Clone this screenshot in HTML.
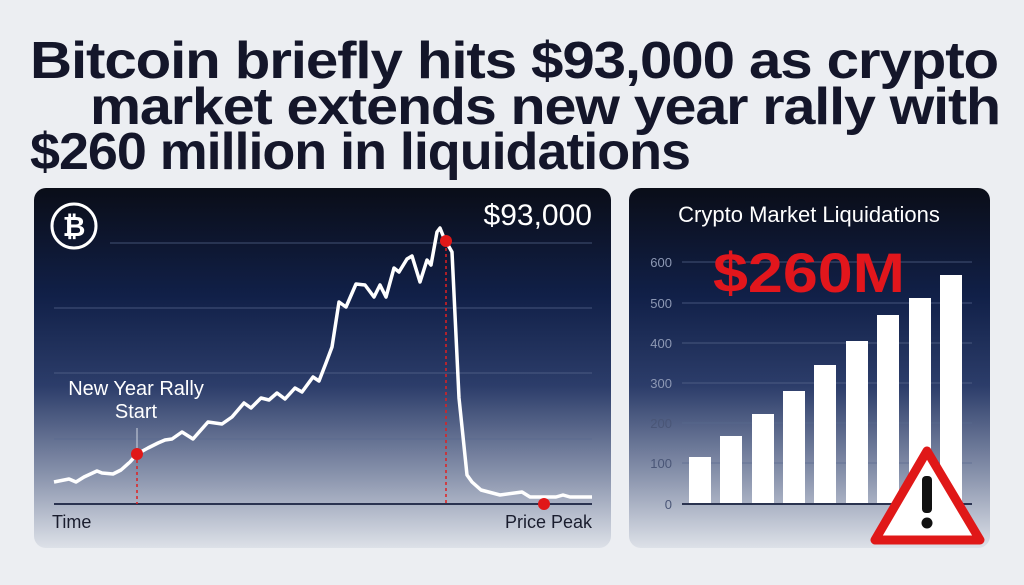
<!DOCTYPE html>
<html><head><style>
html,body{margin:0;padding:0;background:#eceef2;}
svg{display:block;font-family:"Liberation Sans",sans-serif;}
</style></head><body>
<svg width="1024" height="585" viewBox="0 0 1024 585" xmlns="http://www.w3.org/2000/svg">
<defs>
<linearGradient id="bg" x1="0" y1="0" x2="0" y2="1">
<stop offset="0" stop-color="#0a0d18"/>
<stop offset="0.3" stop-color="#112048"/>
<stop offset="0.55" stop-color="#2c3d6a"/>
<stop offset="0.8" stop-color="#8a94ad"/>
<stop offset="1" stop-color="#dde1e8"/>
</linearGradient>
</defs>
<rect width="1024" height="585" fill="#eceef2"/>
<g font-weight="bold" fill="#14162a" font-size="52">
<text x="30" y="78" textLength="968" lengthAdjust="spacingAndGlyphs" letter-spacing="-1">Bitcoin briefly hits $93,000 as crypto</text>
<text x="90" y="124" textLength="910" lengthAdjust="spacingAndGlyphs" letter-spacing="-1">market extends new year rally with</text>
<text x="30" y="169" textLength="660" lengthAdjust="spacingAndGlyphs" letter-spacing="-1">$260 million in liquidations</text>
</g>
<!-- left panel -->
<rect x="34" y="188" width="577" height="360" rx="12" fill="url(#bg)"/>
<g stroke="#5a6a90" stroke-width="1" opacity="0.7">
<line x1="110" y1="243" x2="592" y2="243"/>
<line x1="54" y1="308" x2="592" y2="308"/>
<line x1="54" y1="373" x2="592" y2="373"/>
<line x1="54" y1="439" x2="592" y2="439"/>
</g>
<line x1="54" y1="504" x2="592" y2="504" stroke="#2a3350" stroke-width="2"/>
<circle cx="74" cy="226" r="22" fill="none" stroke="#fff" stroke-width="3"/>
<text x="74" y="236" font-size="28" font-weight="bold" fill="#fff" text-anchor="middle">₿</text>
<text x="592" y="225" font-size="30" fill="#fff" text-anchor="end">$93,000</text>
<text x="136" y="395" font-size="20" fill="#fff" text-anchor="middle">New Year Rally</text>
<text x="136" y="418" font-size="20" fill="#fff" text-anchor="middle">Start</text>
<line x1="137" y1="428" x2="137" y2="448" stroke="#cfd5e0" stroke-width="1"/>
<line x1="137" y1="454" x2="137" y2="504" stroke="#e02020" stroke-width="1.5" stroke-dasharray="3,3"/>
<line x1="446" y1="242" x2="446" y2="504" stroke="#e02020" stroke-width="1.5" stroke-dasharray="3,3"/>
<polyline fill="none" stroke="#fff" stroke-width="3.5" stroke-linejoin="round" points="54,482 69,479 76,482 84,477 97,471 102,473 113,474 121,470 130,462 137,454 148,448 158,443 165,440 172,439 182,432 193,439 208,422 222,424 232,417 244,403 251,408 261,398 269,400 277,393 285,399 295,388 302,392 313,377 319,381 326,363 332,347 339,302 346,307 356,284 365,285 374,297 380,285 386,297 394,268 399,272 407,259 412,256 420,282 427,260 431,265 437,232 440,228 444,238 452,252 459,398 467,475 472,482 481,490 500,495 522,492 530,497 556,497 563,495 570,497 592,497"/>
<circle cx="137" cy="454" r="6" fill="#e01818"/>
<circle cx="446" cy="241" r="6" fill="#e01818"/>
<circle cx="544" cy="504" r="6" fill="#e01818"/>
<text x="52" y="528" font-size="18" fill="#1a1d2e">Time</text>
<text x="592" y="528" font-size="18" fill="#1a1d2e" text-anchor="end">Price Peak</text>
<!-- right panel -->
<rect x="629" y="188" width="361" height="360" rx="12" fill="url(#bg)"/>
<text x="809" y="222" font-size="22" fill="#fff" text-anchor="middle">Crypto Market Liquidations</text>
<g stroke="#5a6a90" stroke-width="1" opacity="0.7">
<line x1="682" y1="262" x2="972" y2="262"/>
<line x1="682" y1="303" x2="972" y2="303"/>
<line x1="682" y1="343" x2="972" y2="343"/>
<line x1="682" y1="383" x2="972" y2="383"/>
<line x1="682" y1="423" x2="972" y2="423"/>
<line x1="682" y1="463" x2="972" y2="463"/>
</g>
<g font-size="13" fill="#8d98b4" text-anchor="end">
<text x="672" y="267">600</text><text x="672" y="308">500</text><text x="672" y="348">400</text>
<text x="672" y="388">300</text><text x="672" y="428" fill="#4a5677">200</text><text x="672" y="468" fill="#4a5677">100</text>
<text x="672" y="509" fill="#4a5677">0</text>
</g>
<g fill="#fff">
<rect x="689" y="457" width="22" height="47"/>
<rect x="720" y="436" width="22" height="68"/>
<rect x="752" y="414" width="22" height="90"/>
<rect x="783" y="391" width="22" height="113"/>
<rect x="814" y="365" width="22" height="139"/>
<rect x="846" y="341" width="22" height="163"/>
<rect x="877" y="315" width="22" height="189"/>
<rect x="909" y="298" width="22" height="206"/>
<rect x="940" y="275" width="22" height="229"/>
</g>
<line x1="682" y1="504" x2="972" y2="504" stroke="#2a3350" stroke-width="2"/>
<text x="809" y="292" font-size="56" font-weight="bold" fill="#e2161c" text-anchor="middle" textLength="192" lengthAdjust="spacingAndGlyphs">$260M</text>
<polygon points="927,451 875,540 980,540" fill="#fff" stroke="#e01818" stroke-width="9" stroke-linejoin="round"/>
<rect x="922" y="476" width="10" height="37" rx="4" fill="#111"/>
<circle cx="927" cy="523" r="5.5" fill="#111"/>
</svg>
</body></html>
